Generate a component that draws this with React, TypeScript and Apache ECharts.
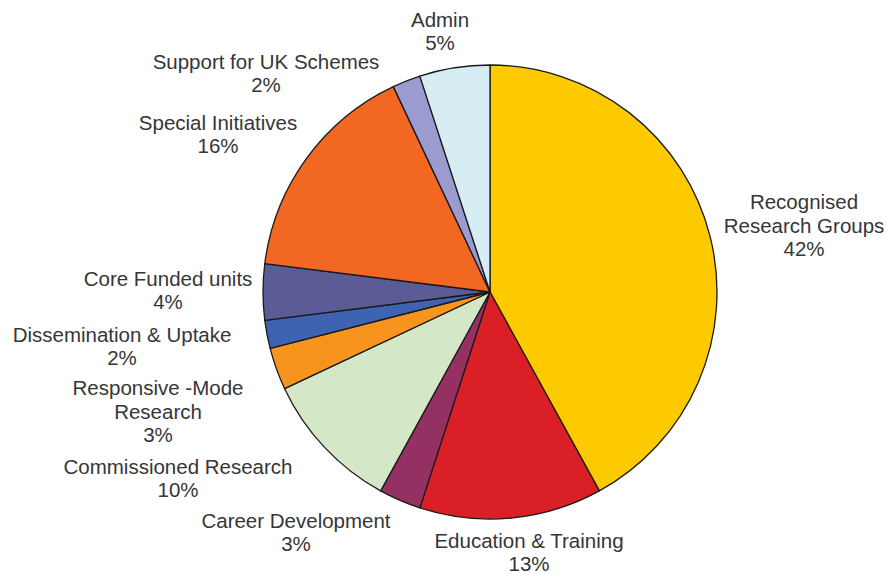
import React, { useEffect, useRef } from "react";
import * as echarts from "echarts";

const names = [
  "Recognised\nResearch Groups",
  "Education & Training",
  "Career Development",
  "Commissioned Research",
  "Responsive -Mode\nResearch",
  "Dissemination & Uptake",
  "Core Funded units",
  "Special Initiatives",
  "Support for UK Schemes",
  "Admin",
];
const values = [42, 13, 3, 10, 3, 2, 4, 16, 2, 5];
const colors = [
  "#FDCA00",
  "#DB1F26",
  "#953063",
  "#D4E8C8",
  "#F7941E",
  "#3F63B3",
  "#5B5C95",
  "#F26722",
  "#9B9BCF",
  "#D6EEF3",
];
// label block centres (layout only)
const labelPos: [number, number][] = [
  [804, 225],
  [529, 552],
  [296, 532],
  [178, 478],
  [158, 411],
  [122, 346],
  [168, 290],
  [218, 134],
  [266, 73],
  [440, 31],
];

export default function App() {
  const ref = useRef<HTMLDivElement>(null);
  useEffect(() => {
    if (!ref.current) return;
    const chart = echarts.init(ref.current, undefined, { renderer: "svg" });
    chart.setOption({
      animation: false,
      backgroundColor: "#ffffff",
      series: [
        {
          type: "pie",
          center: [490, 292],
          radius: 227,
          startAngle: 90,
          clockwise: true,
          avoidLabelOverlap: false,
          data: names.map((n, i) => ({
            name: n,
            value: values[i],
            itemStyle: { color: colors[i] },
          })),
          itemStyle: { borderColor: "#1a1a1a", borderWidth: 1.3 },
          label: {
            show: true,
            position: "outside",
            formatter: "{b}\n{c}%",
            fontFamily: "Liberation Sans, Arial, sans-serif",
            fontSize: 20.5,
            lineHeight: 23.5,
            color: "#363636",
            align: "center",
          },
          labelLine: { show: false },
          labelLayout: (p: any) => {
            const pos = labelPos[p.dataIndex];
            return { x: pos[0], y: pos[1], align: "center", verticalAlign: "middle" };
          },
          emphasis: { disabled: true },
        },
      ],
    });
    return () => chart.dispose();
  }, []);
  return (
    <div
      ref={ref}
      style={{ position: "fixed", left: 0, top: 0, width: 889, height: 574 }}
    />
  );
}
